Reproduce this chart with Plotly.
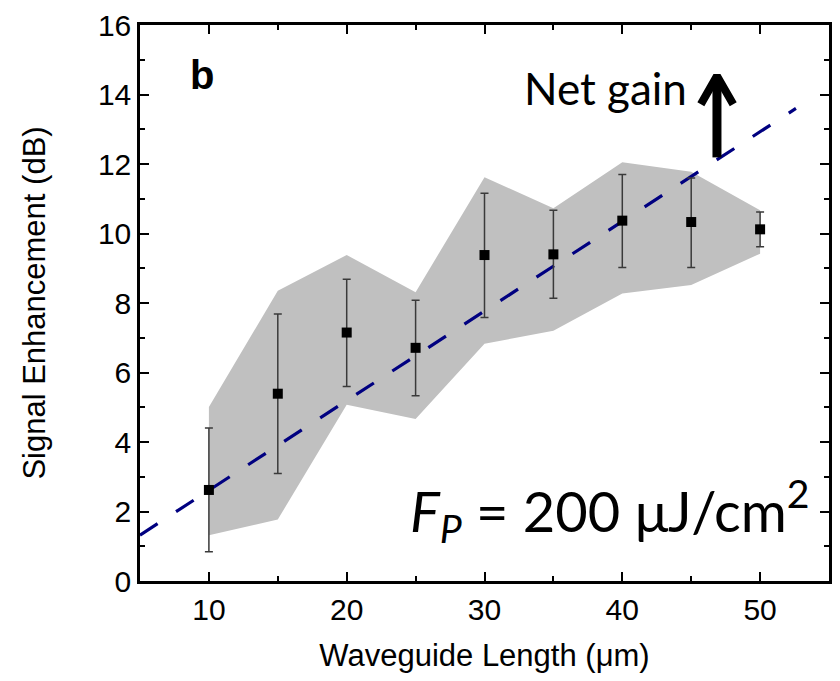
import plotly.graph_objects as go

# Data
length_um = [10, 15, 20, 25, 30, 35, 40, 45, 50]
enhancement_db = [2.62, 5.39, 7.15, 6.71, 9.38, 9.40, 10.37, 10.33, 10.12]
err_plus = [1.78, 2.29, 1.53, 1.37, 1.78, 1.27, 1.33, 1.27, 0.50]
err_minus = [1.78, 2.30, 1.55, 1.38, 1.80, 1.26, 1.35, 1.31, 0.50]
band_upper = [5.01, 8.35, 9.38, 8.31, 11.62, 10.73, 12.05, 11.78, 10.67]
band_lower = [1.32, 1.77, 5.07, 4.66, 6.83, 7.20, 8.27, 8.52, 9.42]
fit_x = [5, 52.6]
fit_y = [1.32, 13.60]
arrow_x = [46.87, 46.87]
arrow_y = [12.19, 14.45]
arrowhead_x = [45.7, 46.87, 48.05]
arrowhead_y = [13.72, 14.53, 13.72]

fig = go.Figure()

fig.add_trace(go.Scatter(
    x=length_um + length_um[::-1],
    y=band_upper + band_lower[::-1],
    fill="toself", fillcolor="#C0C0C0", line=dict(width=0),
    mode="lines", hoverinfo="skip", showlegend=False))

fig.add_trace(go.Scatter(
    x=fit_x, y=fit_y, mode="lines",
    line=dict(color="#000080", width=3.2, dash="21px,22px"),
    showlegend=False))

fig.add_trace(go.Scatter(
    x=length_um, y=enhancement_db, mode="markers",
    marker=dict(symbol="square", size=10, color="black"),
    error_y=dict(type="data", symmetric=False, array=err_plus, arrayminus=err_minus,
                 color="#3a3a3a", thickness=1.5, width=4),
    showlegend=False))

# Arrow
fig.add_trace(go.Scatter(x=arrow_x, y=arrow_y, mode="lines",
                         line=dict(color="black", width=9), showlegend=False))
fig.add_trace(go.Scatter(x=arrowhead_x, y=arrowhead_y, mode="lines",
                         line=dict(color="black", width=8), showlegend=False))

fig.add_annotation(x=38.8, y=14.2, xref="x", yref="y", text="Net gain",
                   showarrow=False, font=dict(family="Lato", size=44, color="black"))
fig.add_annotation(x=9.5, y=14.55, xref="x", yref="y", text="<b>b</b>",
                   showarrow=False, font=dict(family="Liberation Sans", size=40, color="black"))
fig.add_annotation(x=39.1, y=2.05, xref="x", yref="y",
                   text="<i>F</i><sub><i>P</i></sub> = 200 μJ/cm<sup>2</sup>",
                   showarrow=False, font=dict(family="Lato", size=56, color="black"))

axis_common = dict(
    showline=True, linewidth=2.5, linecolor="black", mirror="ticks",
    ticks="inside", ticklen=9, tickwidth=2, tickcolor="black",
    showgrid=False, zeroline=False, ticklabeloverflow="allow",
    tickfont=dict(family="Liberation Sans", size=30, color="black"),
)

fig.update_xaxes(range=[5, 55], dtick=10, tick0=0,
                 minor=dict(ticks="inside", dtick=5, ticklen=5, tickwidth=2, tickcolor="black"),
                 title=dict(text="Waveguide Length (μm)",
                            font=dict(family="Liberation Sans", size=31, color="black"), standoff=24),
                 **axis_common)
fig.update_yaxes(range=[0, 16], dtick=2, tick0=0,
                 minor=dict(ticks="inside", dtick=1, ticklen=5, tickwidth=2, tickcolor="black"),
                 title=dict(text="Signal Enhancement (dB)",
                            font=dict(family="Liberation Sans", size=31, color="black"), standoff=44),
                 **axis_common)

fig.update_layout(width=824, height=665, margin=dict(l=132, r=0, t=14, b=92),
                  plot_bgcolor="white", paper_bgcolor="white", showlegend=False)

fig.write_html("out.html")
